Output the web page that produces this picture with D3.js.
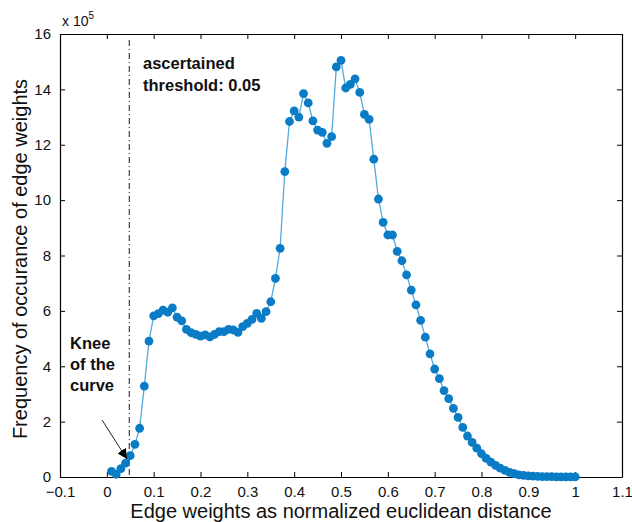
<!DOCTYPE html>
<html>
<head>
<meta charset="utf-8">
<script src="https://cdn.jsdelivr.net/npm/d3@7"></script>
<style>
  body { margin: 0; background: #fff; }
  text { font-family: "Liberation Sans", Arial, Helvetica, sans-serif; }
</style>
</head>
<body>
<script>
// edge weight bins (normalized euclidean distance)
var weights = [0.01,0.02,0.03,0.04,0.05,0.06,0.07,0.08,0.09,0.10,
               0.11,0.12,0.13,0.14,0.15,0.16,0.17,0.18,0.19,0.20,
               0.21,0.22,0.23,0.24,0.25,0.26,0.27,0.28,0.29,0.30,
               0.31,0.32,0.33,0.34,0.35,0.36,0.37,0.38,0.39,0.40,
               0.41,0.42,0.43,0.44,0.45,0.46,0.47,0.48,0.49,0.50,
               0.51,0.52,0.53,0.54,0.55,0.56,0.57,0.58,0.59,0.60,
               0.61,0.62,0.63,0.64,0.65,0.66,0.67,0.68,0.69,0.70,
               0.71,0.72,0.73,0.74,0.75,0.76,0.77,0.78,0.79,0.80,
               0.81,0.82,0.83,0.84,0.85,0.86,0.87,0.88,0.89,0.90,
               0.91,0.92,0.93,0.94,0.95,0.96,0.97,0.98,0.99,1.00];

// frequency, in units of 10^5
var freq = [0.20,0.10,0.30,0.50,0.77,1.18,1.76,3.28,4.91,5.82,
            5.90,6.03,5.95,6.11,5.77,5.64,5.33,5.21,5.15,5.09,
            5.13,5.06,5.15,5.25,5.25,5.33,5.31,5.22,5.43,5.55,
            5.69,5.91,5.73,5.97,6.33,7.17,8.26,11.03,12.84,13.22,
            13.00,13.85,13.51,12.86,12.53,12.45,12.05,12.29,14.81,15.05,
            14.05,14.18,14.38,13.89,13.10,12.92,11.48,10.04,9.20,8.74,
            8.74,8.15,7.81,7.30,6.75,6.22,5.66,5.05,4.45,3.90,
            3.55,3.12,2.83,2.48,2.15,1.79,1.48,1.25,1.04,0.84,
            0.67,0.54,0.42,0.32,0.24,0.17,0.12,0.08,0.06,0.04,
            0.03,0.02,0.015,0.01,0.01,0.008,0.006,0.005,0.004,0.003];

var xTicks = [-0.1,0,0.1,0.2,0.3,0.4,0.5,0.6,0.7,0.8,0.9,1,1.1];
var yTicks = [0,2,4,6,8,10,12,14,16];
var threshold = 0.05;

var w = 632, h = 522;
var pLeft = 60, pRight = 622, pTop = 34, pBottom = 477;

var svg = d3.select('body').append('svg')
            .attr('width', w)
            .attr('height', h);

svg.append('rect').attr('width', w).attr('height', h).attr('fill', 'white');

var x = d3.scaleLinear().domain([-0.1, 1.1]).range([pLeft, pRight]);
var y = d3.scaleLinear().domain([0, 16]).range([pBottom, pTop]);

var fmt = function(d){ return d3.format('')(d).replace('-', '\u2212'); };

// axes, ticks pointing inward like matlab
svg.append('g').attr('transform', 'translate(0,' + pBottom + ')')
   .call(d3.axisBottom(x).tickValues(xTicks).tickSizeInner(-5).tickSizeOuter(0).tickPadding(9).tickFormat(fmt));
svg.append('g').attr('transform', 'translate(0,' + pTop + ')')
   .call(d3.axisTop(x).tickValues(xTicks).tickSizeInner(-5).tickSizeOuter(0).tickFormat(''));
svg.append('g').attr('transform', 'translate(' + pLeft + ',0)')
   .call(d3.axisLeft(y).tickValues(yTicks).tickSizeInner(-5).tickSizeOuter(0).tickPadding(9));
svg.append('g').attr('transform', 'translate(' + pRight + ',0)')
   .call(d3.axisRight(y).tickValues(yTicks).tickSizeInner(-5).tickSizeOuter(0).tickFormat(''));

svg.selectAll('.domain').attr('stroke', '#000').attr('stroke-width', 1.2);
svg.selectAll('.tick line').attr('stroke', '#000');
svg.selectAll('.tick text')
   .attr('font-size', 15)
   .attr('fill', '#111')
   .style('font-family', '"Liberation Sans", Arial, sans-serif');

// x 10^5 exponent label
var expo = svg.append('text').attr('x', 62).attr('y', 26).attr('font-size', 14).attr('fill', '#111');
expo.append('tspan').text('x 10');
expo.append('tspan').attr('dy', -7).attr('font-size', 10).text('5');

// threshold line
svg.append('line')
   .attr('x1', x(threshold) - 1).attr('x2', x(threshold) - 1)
   .attr('y1', pTop + 6).attr('y2', pBottom)
   .attr('stroke', '#000')
   .attr('stroke-width', 0.9)
   .attr('stroke-dasharray', '6,3,1,3');

// curve
var pts = weights.map(function(d, i){ return {w: d, f: freq[i]}; });

svg.append('path')
   .datum(pts)
   .attr('fill', 'none')
   .attr('stroke', '#52a9e0')
   .attr('stroke-width', 1.3)
   .attr('d', d3.line().x(function(d){ return x(d.w); }).y(function(d){ return y(d.f); }));

svg.selectAll('circle')
   .data(pts)
   .enter()
   .append('circle')
   .attr('cx', function(d){ return x(d.w); })
   .attr('cy', function(d){ return y(d.f); })
   .attr('r', 4.4)
   .attr('fill', '#0a7cc6');

// annotations
var ann = svg.append('text').attr('font-size', 16.5).attr('font-weight', 'bold').attr('fill', '#111');
ann.append('tspan').attr('x', 143).attr('y', 69).text('ascertained');
ann.append('tspan').attr('x', 143).attr('y', 91).text('threshold: 0.05');

var knee = svg.append('text').attr('font-size', 16.5).attr('font-weight', 'bold').attr('fill', '#111');
knee.append('tspan').attr('x', 70).attr('y', 349).text('Knee');
knee.append('tspan').attr('x', 70).attr('y', 370).text('of the');
knee.append('tspan').attr('x', 70).attr('y', 391).text('curve');

svg.append('defs').append('marker')
   .attr('id', 'arrow')
   .attr('viewBox', '0 0 10 10')
   .attr('refX', 10).attr('refY', 5)
   .attr('markerWidth', 10).attr('markerHeight', 10)
   .attr('markerUnits', 'userSpaceOnUse')
   .attr('orient', 'auto')
   .append('path').attr('d', 'M0,0 L10,5 L0,10 z').attr('fill', '#000');

svg.append('line')
   .attr('x1', 102).attr('y1', 420)
   .attr('x2', 127).attr('y2', 459)
   .attr('stroke', '#222')
   .attr('stroke-width', 1)
   .attr('marker-end', 'url(#arrow)');

// axis titles
svg.append('text')
   .attr('x', (pLeft + pRight) / 2)
   .attr('y', 518)
   .attr('text-anchor', 'middle')
   .attr('font-size', 20)
   .attr('fill', '#111')
   .text('Edge weights as normalized euclidean distance');

svg.append('text')
   .attr('transform', 'translate(27,259) rotate(-90)')
   .attr('text-anchor', 'middle')
   .attr('font-size', 20)
   .attr('fill', '#111')
   .text('Frequency of occurance of edge weights');
</script>
</body>
</html>
